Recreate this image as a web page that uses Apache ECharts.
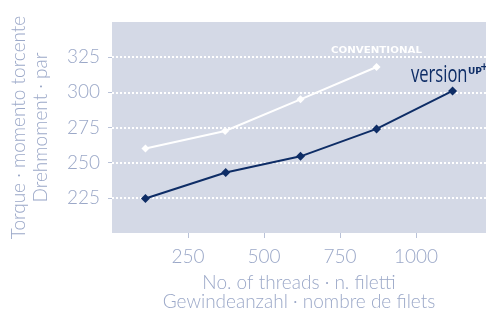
<!DOCTYPE html>
<html>
<head>
<meta charset="utf-8">
<script src="https://cdn.jsdelivr.net/npm/echarts@6/dist/echarts.min.js"></script>
<style>html,body{margin:0;padding:0;background:#fff}#c{width:486px;height:311px}</style>
</head>
<body>
<div id="c"></div>
<script>
const threadsConv = [110, 372, 620, 870];
const torqueConv = [260, 272.5, 295, 318];
const threadsUP = [110, 374, 620, 870, 1120];
const torqueUP = [224.5, 243, 254.5, 274, 301];
const xTicks = [250, 500, 750, 1000];
const yTicks = [225, 250, 275, 300, 325];

const txt = '#9ba8c8';
const font = 'Lato';
const chart = echarts.init(document.getElementById('c'), null, {renderer: 'canvas'});
chart.setOption({
  animation: false,
  grid: {left: 112, right: 0, top: 22, bottom: 78, show: true, backgroundColor: '#d4d9e6', borderWidth: 0,
    outerBoundsMode: 'none', containLabel: false},
  xAxis: {
    type: 'value', min: 0, max: 1230, interval: 250,
    name: 'No. of threads · n. filetti\nGewindeanzahl · nombre de filets',
    nameLocation: 'middle', nameGap: 40,
    nameTextStyle: {color: txt, fontSize: 19, fontFamily: font, fontWeight: 300, lineHeight: 19},
    axisLine: {show: false},
    axisTick: {show: true, customValues: xTicks, length: 5, lineStyle: {color: '#b9c2d8', width: 1}},
    axisLabel: {customValues: xTicks, color: txt, fontSize: 19, fontFamily: font, fontWeight: 300, margin: 14,
      formatter: v => String(v)},
    splitLine: {show: false}
  },
  yAxis: {
    type: 'value', min: 200, max: 350, interval: 25,
    name: 'Torque · momento torcente\nDrehmoment · par',
    nameLocation: 'middle', nameGap: 60, nameRotate: 90,
    nameTextStyle: {color: txt, fontSize: 19, fontFamily: font, fontWeight: 300, lineHeight: 22},
    axisLine: {show: false},
    axisTick: {show: true, customValues: yTicks, length: 4, lineStyle: {color: '#b9c2d8', width: 1}},
    axisLabel: {customValues: yTicks, color: txt, fontSize: 19, fontFamily: font, fontWeight: 300, margin: 12},
    splitLine: {show: true, showMinLine: true, showMaxLine: true, lineStyle: {color: '#ffffff', width: 2, type: [2, 2]}}
  },
  series: [
    {
      type: 'line', data: threadsConv.map((x, i) => [x, torqueConv[i]]),
      symbol: 'diamond', symbolSize: 8,
      lineStyle: {color: '#ffffff', width: 2}, itemStyle: {color: '#ffffff'}
    },
    {
      type: 'line', data: threadsUP.map((x, i) => [x, torqueUP[i]]),
      symbol: 'diamond', symbolSize: 9,
      lineStyle: {color: '#0e2d66', width: 2}, itemStyle: {color: '#0e2d66'}
    }
  ],
  graphic: [
    {type: 'text', x: 331, y: 46, scaleX: 1.14, style: {text: 'CONVENTIONAL', fill: '#ffffff', font: 'bold 9px "DejaVu Sans"'}},
    {type: 'text', x: 411, y: 63, scaleX: 0.69, style: {text: 'version', fill: '#0e2d66', font: '24px "Open Sans"'}},
    {type: 'text', x: 468, y: 67, style: {text: 'UP', fill: '#0e2d66', font: 'bold 9px "DejaVu Sans"'}},
    {type: 'text', x: 480, y: 62, style: {text: '+', fill: '#0e2d66', font: 'bold 10px "DejaVu Sans"'}}
  ]
});
</script>
</body>
</html>
